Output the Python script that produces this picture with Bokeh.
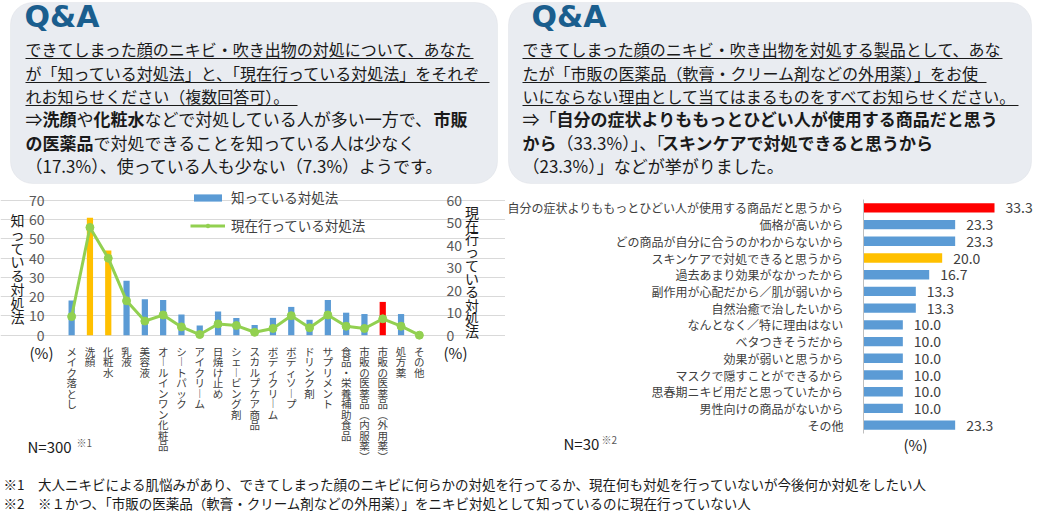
from bokeh.plotting import figure
from bokeh.models import (Range1d, FixedTicker, LinearAxis, Label, BoxAnnotation,
                          Legend, LegendItem, ColumnDataSource)
from bokeh.layouts import column, row
from bokeh.embed import file_html
from bokeh.resources import INLINE
from bokeh.core.properties import value

FONT = "Noto Sans CJK JP"

# ---------------- data ----------------
methods = ["メイク落とし", "洗顔", "化粧水", "乳液", "美容液", "オールインワン化粧品",
           "シートパック", "アイクリーム", "日焼け止め", "シェービング剤", "スカルプケア商品",
           "ボディクリーム", "ボディソープ", "ドリンク剤", "サプリメント", "食品・栄養補助食品",
           "市販の医薬品（内服薬）", "市販の医薬品（外用薬）", "処方薬", "その他"]
known = [18.0, 61.0, 44.0, 28.3, 18.7, 18.3, 10.7, 5.0, 12.3, 9.0, 5.3,
         9.0, 14.7, 8.0, 18.3, 11.7, 11.0, 17.3, 11.0, 0.3]
current = [8.3, 48.0, 34.3, 15.3, 6.3, 9.0, 3.7, 0.3, 5.0, 4.3, 1.3,
           3.0, 8.7, 3.3, 9.0, 4.0, 3.0, 7.3, 4.0, 0.0]
left_ticks = [0, 10, 20, 30, 40, 50, 60, 70]
right_ticks = [0, 10, 20, 30, 40, 50, 60]

reasons = ["自分の症状よりももっとひどい人が使用する商品だと思うから", "価格が高いから",
           "どの商品が自分に合うのかわからないから", "スキンケアで対処できると思うから",
           "過去あまり効果がなかったから", "副作用が心配だから／肌が弱いから",
           "自然治癒で治したいから", "なんとなく／特に理由はない", "ベタつきそうだから",
           "効果が弱いと思うから", "マスクで隠すことができるから",
           "思春期ニキビ用だと思っていたから", "男性向けの商品がないから", "その他"]
reason_vals = [33.3, 23.3, 23.3, 20.0, 16.7, 13.3, 13.3, 10.0, 10.0, 10.0, 10.0, 10.0, 10.0, 23.3]

# ---------------- styles ----------------
BLUE = "#5B9BD5"
ORANGE = "#FFC000"
RED = "#FF0000"
GREEN = "#92D050"
GRID = "#D9D9D9"
TXT = "#404040"
DARK = "#1a1a1a"
left_highlight = {"洗顔": ORANGE, "化粧水": ORANGE, "市販の医薬品（外用薬）": RED}
right_highlight = {"自分の症状よりももっとひどい人が使用する商品だと思うから": RED,
                   "スキンケアで対処できると思うから": ORANGE}
VERT = {"ー": "︱", "（": "︵", "）": "︶"}
WIDTH_OVERRIDE = {"（33.3%）」、「": 6.2}


def em_width(s):
    if s in WIDTH_OVERRIDE:
        return WIDTH_OVERRIDE[s]
    w = 0.0
    for ch in s:
        if ord(ch) > 0x2000:
            w += 1.0
        elif ch.isdigit():
            w += 0.555
        elif ch == ".":
            w += 0.27
        elif ch == "%":
            w += 0.84
        else:
            w += 0.5
    return w


# ---------------- header ----------------
HH = 185
hdr = figure(width=1040, height=HH, x_range=Range1d(0, 1040), y_range=Range1d(0, HH),
             x_axis_type=None, y_axis_type=None, toolbar_location=None,
             output_backend="svg", min_border=0, outline_line_color=None)
hdr.grid.visible = False


def HY(py):
    return HH - py


for (l, r) in [(10, 497), (508, 1031)]:
    hdr.add_layout(BoxAnnotation(left=l, right=r, top=HY(2), bottom=HY(183),
                                 fill_color="#E9ECF1", fill_alpha=1.0,
                                 line_color="#D3D8DF", line_width=1,
                                 border_radius=22, level="underlay"))

for qx in [24, 531]:
    hdr.text(x=[qx], y=[HY(16)], text=["Q&A"], text_font=value("DejaVu Sans"),
             text_font_style="bold", text_font_size="30px", text_color="#1A5E8E",
             text_baseline="middle", text_align="left")

left_lines = [
    [("できてしまった顔のニキビ・吹き出物の対処について、あなた", False)],
    [("が「知っている対処法」と、「現在行っている対処法」をそれぞ", False)],
    [("れお知らせください（複数回答可）。", False)],
    [("⇒", False), ("洗顔", True), ("や", False), ("化粧水", True),
     ("などで対処している人が多い一方で、", False), ("市販", True)],
    [("の医薬品", True), ("で対処できることを知っている人は少なく", False)],
    [("（17.3%）、使っている人も少ない（7.3%）ようです。", False)],
]
right_lines = [
    [("できてしまった顔のニキビ・吹き出物を対処する製品として、あな", False)],
    [("たが「市販の医薬品（軟膏・クリーム剤などの外用薬）」をお使", False)],
    [("いにならない理由として当てはまるものをすべてお知らせください。", False)],
    [("⇒「", False), ("自分の症状よりももっとひどい人が使用する商品だと思う", True)],
    [("から", True), ("（33.3%）」、「", False), ("スキンケアで対処できると思うから", True)],
    [("（23.3%）」などが挙がりました。", False)],
]
line_y = [48, 72, 95, 118, 142, 165]
line_fs = [16, 16, 16, 17, 17, 17]

for x0, lines in [(25, left_lines), (522, right_lines)]:
    for i, segs in enumerate(lines):
        fs = line_fs[i]
        x = x0
        for txt, bold in segs:
            hdr.text(x=[x], y=[HY(line_y[i])], text=[txt], text_font=value(FONT),
                     text_font_size=f"{fs}px", text_font_style="bold" if bold else "normal",
                     text_color=DARK, text_baseline="middle", text_align="left")
            x += em_width(txt) * fs
        if i < 3:
            hdr.segment(x0=[x0], x1=[x], y0=[HY(line_y[i] + 10)], y1=[HY(line_y[i] + 10)],
                        line_color=DARK, line_width=1)

# ---------------- left chart ----------------
CT, CB = 185, 465         # page y of chart row top / bottom
CH = CB - CT
LW = 505
FL, FR = 62, 428          # plot area left/right (page x)
Y0P, Y70P = 334.7, 200.0  # page y of value 0 and 70
ppu = (Y0P - Y70P) / 70.0
n = len(methods)
step = (FR - FL) / n


def lx(px):
    return (px - FL) / step - 0.5


def ly(py):
    return (Y0P - py) / ppu


pl = figure(width=LW, height=CH, x_range=Range1d(lx(0), lx(LW)),
            y_range=Range1d(ly(CB), ly(CT)), x_axis_type=None,
            toolbar_location=None, output_backend="svg",
            min_border=0, outline_line_color=None)
pl.extra_y_ranges = {"right": Range1d(ly(CB) * 60 / 70, ly(CT) * 60 / 70)}

pl.xgrid.visible = False
pl.ygrid.ticker = FixedTicker(ticks=left_ticks)
pl.ygrid.grid_line_color = GRID
pl.ygrid.bounds = (-0.5, n - 0.5)
laxis = pl.yaxis[0]
laxis.ticker = FixedTicker(ticks=left_ticks)
laxis.fixed_location = -0.5
laxis.bounds = (0, 70)
raxis = LinearAxis(y_range_name="right", ticker=FixedTicker(ticks=right_ticks),
                   fixed_location=n - 0.5, bounds=(0, 60))
pl.add_layout(raxis, "right")
for ax in [laxis, raxis]:
    ax.axis_line_color = None
    ax.major_tick_line_color = None
    ax.minor_tick_line_color = None
    ax.major_label_text_font = FONT
    ax.major_label_text_font_size = "14px"
    ax.major_label_text_color = "#595959"
    ax.major_label_standoff = 12

src = ColumnDataSource(dict(
    x=list(range(n)), known=known, current=current,
    color=[left_highlight.get(m, BLUE) for m in methods],
    vlab=["\n".join(VERT.get(c, c) for c in m) for m in methods],
))
bars = pl.vbar(x="x", top="known", width=0.34, fill_color="color", line_color=None, source=src)
ln = pl.line(x="x", y="current", y_range_name="right", line_color=GREEN, line_width=3, source=src)
pts = pl.scatter(x="x", y="current", y_range_name="right", size=8, marker="circle",
                 fill_color=GREEN, line_color=GREEN, source=src)
pl.text(x="x", y=ly(343), text="vlab", source=src, text_font=value(FONT),
        text_font_size="10.5px", text_color=TXT, text_align="center",
        text_baseline="top", text_line_height=0.7)

legend = Legend(items=[LegendItem(label="知っている対処法", renderers=[bars], index=0),
                       LegendItem(label="現在行っている対処法", renderers=[ln, pts])],
                location=(190, CB - 235), glyph_width=35, glyph_height=9,
                label_standoff=6, spacing=8, padding=0, margin=0, label_height=18,
                background_fill_alpha=0, border_line_alpha=0,
                label_text_font=FONT, label_text_font_size="13.5px", label_text_color=TXT)
pl.add_layout(legend)

for t, px, py0, stp in [("知っている対処法", 17, 219.5, 13.8), ("現在行っている対処法", 471.5, 211, 13.3)]:
    for k, ch in enumerate(t):
        pl.add_layout(Label(x=lx(px), y=ly(py0 + k * stp), text=ch, text_font=FONT,
                            text_font_size="14px", text_color=DARK,
                            text_align="center", text_baseline="middle"))
for px in [41, 455]:
    pl.add_layout(Label(x=lx(px), y=ly(352), text="(%)", text_font=FONT, text_font_size="15px",
                        text_color=DARK, text_align="center", text_baseline="middle"))
pl.add_layout(Label(x=lx(27), y=ly(446), text="N=300", text_font=FONT, text_font_size="15px",
                    text_color=DARK, text_align="left", text_baseline="middle"))
pl.add_layout(Label(x=lx(76), y=ly(442), text="※1", text_font=FONT, text_font_size="10px",
                    text_color="#595959", text_align="left", text_baseline="middle"))

# ---------------- right chart ----------------
RW = 535
RX0 = LW
RFL = 863
RFT, RFB = 199.0, 433.0
m = len(reasons)
rstep = (RFB - RFT) / m
xppu = (994 - RFL) / 33.3


def rx(px):
    return (px - RFL) / xppu


def ry(py):
    return -0.5 + (py - RFT) / rstep


pr = figure(width=RW, height=CH, x_range=Range1d(rx(RX0), rx(RX0 + RW)),
            y_range=Range1d(ry(CB), ry(CT)), x_axis_type=None,
            toolbar_location=None, output_backend="svg",
            min_border=0, outline_line_color=None)
pr.grid.visible = False
ya = pr.yaxis[0]
ya.ticker = FixedTicker(ticks=list(range(m)))
ya.major_label_overrides = {i: r for i, r in enumerate(reasons)}
ya.fixed_location = 0
ya.bounds = (-0.5, m - 0.5)
ya.axis_line_color = "#BFBFBF"
ya.major_tick_line_color = None
ya.minor_tick_line_color = None
ya.major_label_text_font = FONT
ya.major_label_text_font_size = "12px"
ya.major_label_text_color = TXT
ya.major_label_standoff = 14

rsrc = ColumnDataSource(dict(
    y=list(range(m)), val=reason_vals,
    color=[right_highlight.get(r, BLUE) for r in reasons],
    lab=[f"{v:.1f}" for v in reason_vals],
))
pr.hbar(y="y", right="val", left=0, height=0.56, fill_color="color", line_color=None, source=rsrc)
pr.text(x="val", y="y", text="lab", source=rsrc, x_offset=11, text_font=value(FONT),
        text_font_size="14px", text_color=TXT, text_baseline="middle", text_align="left")
pr.add_layout(Label(x=rx(915), y=ry(444), text="(%)", text_font=FONT, text_font_size="15px",
                    text_color=DARK, text_align="center", text_baseline="middle"))
pr.add_layout(Label(x=rx(563), y=ry(443), text="N=30", text_font=FONT, text_font_size="15px",
                    text_color=DARK, text_align="left", text_baseline="middle"))
pr.add_layout(Label(x=rx(601), y=ry(439), text="※2", text_font=FONT, text_font_size="10px",
                    text_color="#595959", text_align="left", text_baseline="middle"))

# ---------------- footer ----------------
FH = 514 - CB
ft = figure(width=1040, height=FH, x_range=Range1d(0, 1040), y_range=Range1d(0, FH),
            x_axis_type=None, y_axis_type=None, toolbar_location=None,
            output_backend="svg", min_border=0, outline_line_color=None)
ft.grid.visible = False
notes = ["※1　大人ニキビによる肌悩みがあり、できてしまった顔のニキビに何らかの対処を行ってるか、現在何も対処を行っていないが今後何か対処をしたい人",
         "※2　※１かつ、「市販の医薬品（軟膏・クリーム剤などの外用薬）」をニキビ対処として知っているのに現在行っていない人"]
ft.text(x=[3, 3], y=[FH - (483 - CB), FH - (502 - CB)], text=notes, text_font=value(FONT),
        text_font_size="13.5px", text_color=DARK, text_baseline="middle", text_align="left")

layout = column(hdr, row(pl, pr), ft)
open("out.html", "w").write(file_html(layout, INLINE))
